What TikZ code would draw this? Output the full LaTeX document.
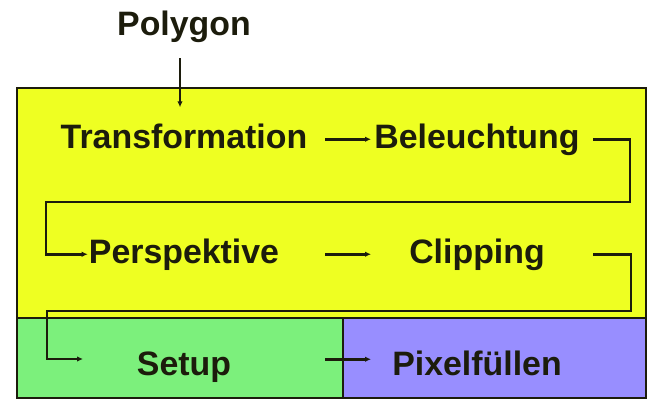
\documentclass[tikz,border=0pt]{standalone}
\usepackage{fontspec}
\setmainfont{Liberation Sans}
\usetikzlibrary{arrows.meta,calc}

\definecolor{stageyellow}{RGB}{238,255,34}
\definecolor{stagegreen}{RGB}{124,240,124}
\definecolor{stageblue}{RGB}{152,142,255}
\definecolor{lineblack}{RGB}{28,28,12}

\begin{document}
\begin{tikzpicture}[x=1bp, y=1bp,
        stage/.style={anchor=base, inner sep=0pt, text height=24.5bp, text depth=7bp,
            font=\fontsize{34}{40}\selectfont\bfseries, text=lineblack},
        flow/.style={draw=lineblack, line width=2.6bp, -{Latex[length=6bp,width=5.5bp]}},
        box/.style={draw=lineblack, line width=1.6bp}]

        \useasboundingbox (0,0) rectangle (648,400);

        \filldraw[box, fill=stageyellow] (17,82) rectangle (646,312);
        \filldraw[box, fill=stagegreen] (17,2) rectangle (343,82);
        \filldraw[box, fill=stageblue] (343,2) rectangle (646,82);

        \node[stage] (poly) at (184,365) {Polygon};
        \node[stage] (trans) at (184,252) {Transformation};
        \node[stage] (bel) at (477,252) {Beleuchtung};
        \node[stage] (persp) at (184,137) {Perspektive};
        \node[stage] (clip) at (477,137) {Clipping};
        \node[stage] (setup) at (184,25) {Setup};
        \node[stage] (pixel) at (477,25) {Pixelfüllen};

        \coordinate (a1) at (325,0);
        \coordinate (a2) at (371,0);
        \coordinate (r0) at (593,0);
        \coordinate (t1) at (630,198);
        \coordinate (t2) at (46,198);
        \coordinate (t3) at (631,89);
        \coordinate (t4) at (47,89);
        \coordinate (s0) at (83,41);

        \draw[flow] ([xshift=-4bp,yshift=-16bp]poly.south) -- ([xshift=-4bp,yshift=16bp]trans.north);
        \draw[flow] (trans.east -| a1) -- (bel.west -| a2);
        \draw[flow] (bel.east -| r0) -| (t1) -- (t2) |- ([xshift=-1bp]persp.west);
        \draw[flow] (persp.east -| a1) -- (clip.west -| a2);
        \draw[flow] (clip.east -| r0) -| (t3) -- (t4) |- (s0);
        \draw[flow] ($(setup.east -| a1)+(0,7)$) -- ($(pixel.west -| a2)+(0,7)$);
    \end{tikzpicture}
\end{document}
